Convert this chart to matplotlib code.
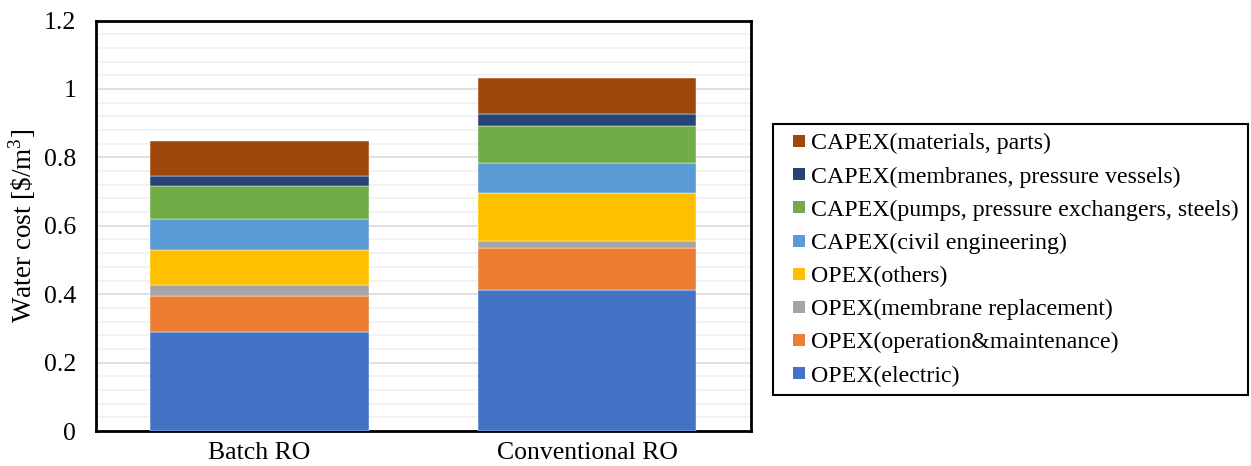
import numpy as np
import matplotlib.pyplot as plt
from matplotlib.lines import Line2D
from matplotlib.ticker import MultipleLocator

plt.rcParams['font.family'] = ['Liberation Serif', 'DejaVu Serif']
plt.rcParams['mathtext.fontset'] = 'custom'
plt.rcParams['mathtext.rm'] = 'Liberation Serif'

systems = ['Batch RO', 'Conventional RO']

# cost components in $/m3, bottom to top of the stack
opex_electric = [0.290, 0.413]
opex_om = [0.106, 0.123]
opex_membrane = [0.030, 0.020]
opex_others = [0.104, 0.140]
capex_civil = [0.089, 0.087]
capex_pumps = [0.097, 0.110]
capex_membranes = [0.030, 0.033]
capex_materials = [0.103, 0.107]

labels = ['OPEX(electric)', 'OPEX(operation&maintenance)', 'OPEX(membrane replacement)',
          'OPEX(others)', 'CAPEX(civil engineering)',
          'CAPEX(pumps, pressure exchangers, steels)',
          'CAPEX(membranes, pressure vessels)', 'CAPEX(materials, parts)']
colors = ['#4472C4', '#ED7D31', '#A5A5A5', '#FFC000', '#5B9BD5', '#70AD47', '#264478', '#9E480E']
parts = [opex_electric, opex_om, opex_membrane, opex_others,
         capex_civil, capex_pumps, capex_membranes, capex_materials]

fig = plt.figure(figsize=(12.51, 4.66), dpi=100)
ax = fig.add_axes([0.0765, 0.075, 0.5238, 0.881])

x = np.arange(len(systems))
bottom = np.zeros(len(systems))
for vals, lab, col in zip(parts, labels, colors):
    ax.bar(x, vals, width=0.667, bottom=bottom, color=col, label=lab,
           edgecolor='white', linewidth=0.3, zorder=3)
    bottom += np.array(vals)

ax.set_xlim(-0.5, 1.5)
ax.set_ylim(0, 1.2)
ax.yaxis.set_minor_locator(MultipleLocator(0.04))
ax.set_yticks([0, 0.2, 0.4, 0.6, 0.8, 1.0, 1.2])
ax.set_yticklabels(['0', '0.2', '0.4', '0.6', '0.8', '1', '1.2'])
ax.grid(axis='y', which='major', color='#d9d9d9', linewidth=1.2, zorder=0)
ax.grid(axis='y', which='minor', color='#f0f0f0', linewidth=1.2, zorder=0)
ax.set_axisbelow(True)

ax.set_xticks(x)
ax.set_xticklabels(systems)
ax.tick_params(axis='both', which='both', length=0, labelsize=18.5)
ax.tick_params(axis='y', pad=14)
ax.tick_params(axis='x', pad=8)
for s in ax.spines.values():
    s.set_linewidth(2)
    s.set_color('black')

ax.set_ylabel(r'Water cost [\$/m$^3$]', fontsize=19.5, labelpad=4)

# small square swatches, top entry = top of the stack
swatches = [Line2D([], [], marker='s', linestyle='none', markersize=8.6,
                   markerfacecolor=c, markeredgewidth=0) for c in colors[::-1]]
leg = fig.legend(swatches, labels[::-1], loc='upper left',
                 bbox_to_anchor=(773 / 1251, 1 - 124 / 466), fontsize=17.2,
                 fancybox=False, edgecolor='black', handlelength=1.45,
                 handletextpad=-0.2, labelspacing=0.48,
                 borderpad=0.36, borderaxespad=0, framealpha=1)
leg.get_frame().set_linewidth(1.5)

plt.savefig('out.png', dpi=100)
